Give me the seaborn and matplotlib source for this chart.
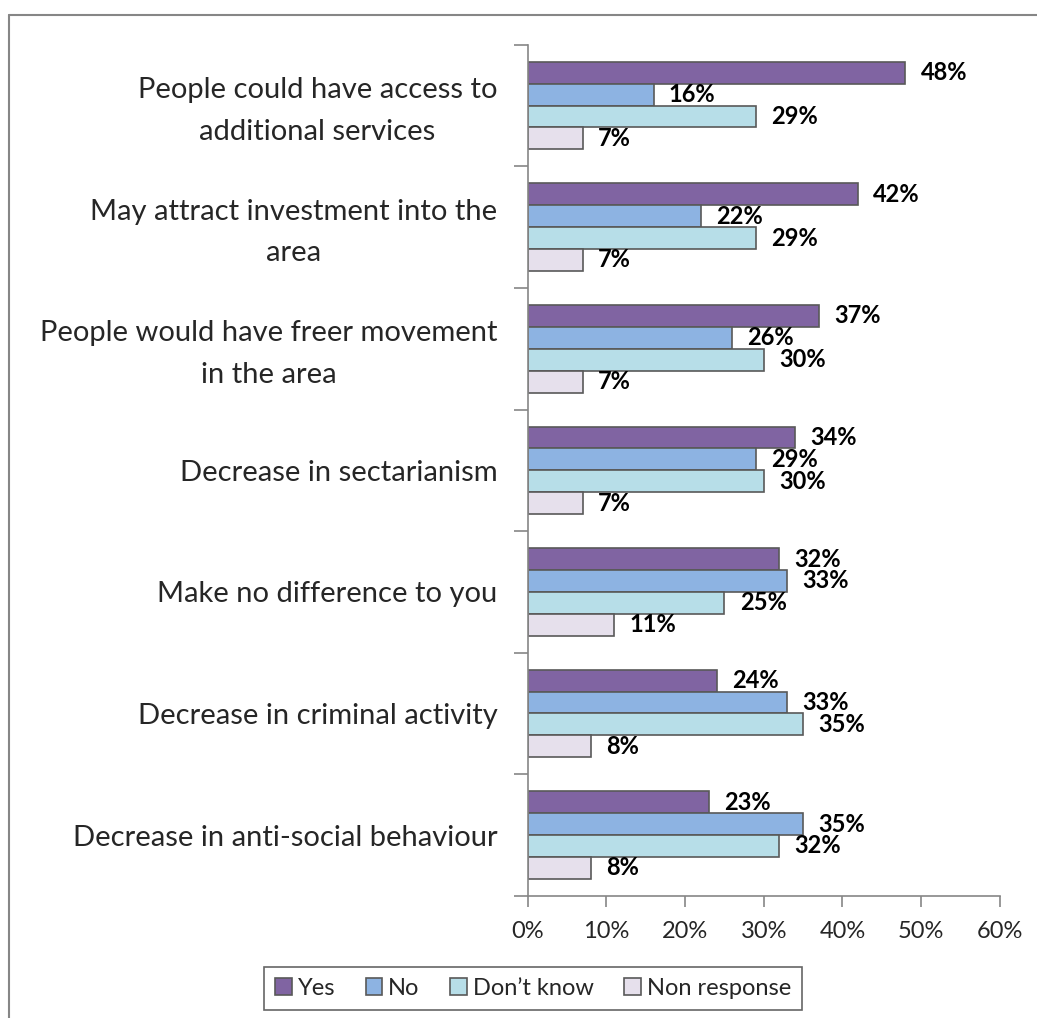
import matplotlib
matplotlib.use("Agg")
import matplotlib.pyplot as plt
from matplotlib.lines import Line2D
from matplotlib.patches import Patch
from matplotlib.ticker import FuncFormatter, FixedLocator
from matplotlib.transforms import ScaledTranslation
import seaborn as sns
import pandas as pd

categories = [
    "People could have access to\nadditional services",
    "May attract investment into the\narea",
    "People would have freer movement\nin the area",
    "Decrease in sectarianism",
    "Make no difference to you",
    "Decrease in criminal activity",
    "Decrease in anti-social behaviour",
]
series = ["Yes", "No", "Don\u2019t know", "Non response"]
yes = [48, 42, 37, 34, 32, 24, 23]
no = [16, 22, 26, 29, 33, 33, 35]
dont_know = [29, 29, 30, 30, 25, 35, 32]
non_response = [7, 7, 7, 7, 11, 8, 8]
x_ticks = [0, 10, 20, 30, 40, 50, 60]

colors = ["#8064A2", "#8DB3E2", "#B7DEE8", "#E6E0EC"]
edge = "#595959"

rows = []
for name, vals in zip(series, [yes, no, dont_know, non_response]):
    for cat, v in zip(categories, vals):
        rows.append({"category": cat, "response": name, "value": v})
df = pd.DataFrame(rows)

sns.set_style("white")
plt.rcParams["font.family"] = ["Lato", "DejaVu Sans"]

fig = plt.figure(figsize=(10.37, 10.18), dpi=100)
ax = fig.add_axes([0.509, 0.120, 0.455, 0.836])

sns.barplot(data=df, y="category", x="value", hue="response", order=categories,
            hue_order=series, palette=colors, saturation=1, orient="h",
            width=0.72, edgecolor=edge, linewidth=1.2, ax=ax, legend=False)

for cont in ax.containers:
    vals = [bar.get_width() for bar in cont]
    ax.bar_label(cont, labels=[f"{v:.0f}%" for v in vals], padding=11,
                 fontsize=17, fontweight="bold", color="black")

ax.set_xlim(0, 60)
ax.set_ylim(len(categories) - 0.5, -0.5)
ax.xaxis.set_major_locator(FixedLocator(x_ticks))
ax.xaxis.set_major_formatter(FuncFormatter(lambda v, p: f"{v:.0f}%"))
ax.set_xlabel("")
ax.set_ylabel("")

# category boundaries carry the y tick marks; labels sit at centres
ax.set_yticks([i - 0.5 for i in range(len(categories) + 1)], minor=False)
ax.set_yticklabels([])
ax.set_yticks(range(len(categories)), minor=True)
ax.set_yticklabels(categories, minor=True)
ax.tick_params(axis="y", which="minor", length=0, pad=22, labelsize=21)
ax.tick_params(axis="y", which="major", length=10, width=1.2, color="#868686",
               direction="out", left=True)
ax.tick_params(axis="x", length=8, width=1.2, color="#868686", direction="out",
               bottom=True, labelsize=17, pad=10)
lift = ScaledTranslation(0, 5 / 100, fig.dpi_scale_trans)
for lab in ax.get_yticklabels(minor=True):
    lab.set_multialignment("center")
    lab.set_linespacing(1.75)
    if "\n" in lab.get_text():
        lab.set_transform(lab.get_transform() + lift)

for s in ["top", "right"]:
    ax.spines[s].set_visible(False)
for s in ["left", "bottom"]:
    ax.spines[s].set_color("#868686")
    ax.spines[s].set_linewidth(1.2)

handles = [Patch(facecolor=c, edgecolor=edge, linewidth=1.2) for c in colors]
leg = fig.legend(handles, series, loc="center", bbox_to_anchor=(0.514, 0.029),
                 ncol=4, fontsize=17, frameon=True, fancybox=False,
                 handlelength=0.7, handleheight=0.7, handletextpad=0.25,
                 columnspacing=1.3, borderpad=0.45)
leg.get_frame().set_edgecolor("#404040")
leg.get_frame().set_linewidth(1.2)

# outer chart border
fig.add_artist(Line2D([9 / 1037, 1.0], [1 - 15 / 1018, 1 - 15 / 1018],
                      color="#868686", linewidth=1.5, transform=fig.transFigure))
fig.add_artist(Line2D([9 / 1037, 9 / 1037], [0.0, 1 - 15 / 1018],
                      color="#868686", linewidth=1.5, transform=fig.transFigure))

fig.savefig("out.png", dpi=100, facecolor="white")
